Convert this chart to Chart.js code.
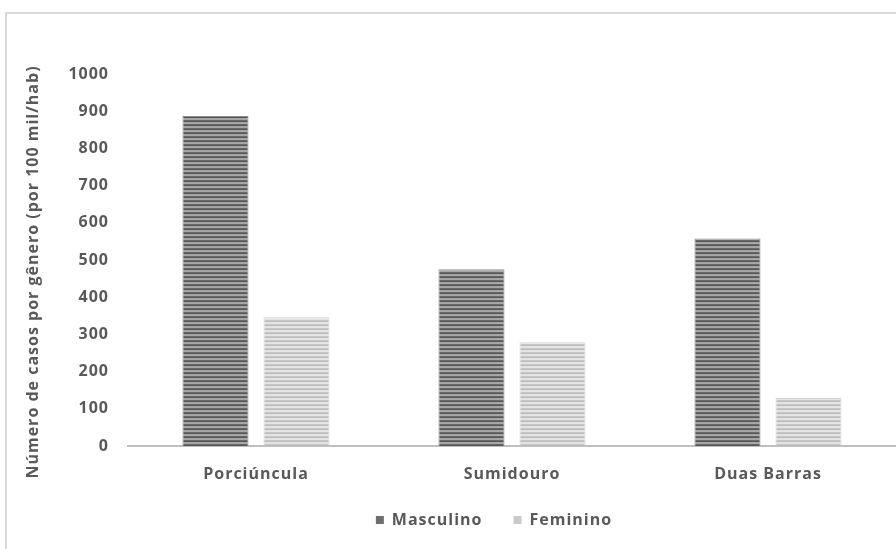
<!DOCTYPE html>
<html>
<head>
<meta charset="utf-8">
<script src="https://cdn.jsdelivr.net/npm/chart.js@4.4.1/dist/chart.umd.min.js"></script>
<style>
  html, body { margin: 0; padding: 0; background: #fff; overflow: hidden; }
  #frame {
    position: absolute; left: 5px; top: 12px; width: 1000px; height: 600px;
    border-left: 2px solid #d9d9d9; border-top: 2px solid #d9d9d9;
  }
  #wrap { position: absolute; left: 0; top: 0; width: 896px; height: 549px; }
</style>
</head>
<body>
<div id="frame"></div>
<div id="wrap"><canvas id="c" width="896" height="549"></canvas></div>
<script>
// Municípios e taxas por gênero (casos por 100 mil habitantes)
const municipios = ['Porciúncula', 'Sumidouro', 'Duas Barras'];
const masculino = [887, 475, 558];
const feminino = [346, 279, 129];
const yTicks = [0, 100, 200, 300, 400, 500, 600, 700, 800, 900, 1000];

const FONT = "'Open Sans', 'Lato', sans-serif";
const TEXT = '#595959';

// horizontal striped fill for the bars
function stripes(dark, light, edge) {
  const p = document.createElement('canvas');
  p.width = 4; p.height = 4;
  const g = p.getContext('2d');
  g.fillStyle = light; g.fillRect(0, 0, 4, 4);
  g.fillStyle = dark; g.fillRect(0, 0, 4, 2);
  g.fillStyle = edge; g.fillRect(0, 1, 4, 1);
  return g.createPattern(p, 'repeat');
}
const ctx = document.getElementById('c').getContext('2d');
const padM = stripes('#6a6a6a', '#a6a6a6', '#555555');
const padF = stripes('#c6c6c6', '#e4e4e4', '#bdbdbd');

// slightly spaced lettering for all chart text
const spacing = {
  id: 'spacing',
  beforeUpdate(c) { c.ctx.letterSpacing = '1px'; },
  beforeLayout(c) { c.ctx.letterSpacing = '1px'; },
  beforeDraw(c) { c.ctx.letterSpacing = '1px'; }
};
// legend sits right of the canvas centre and a little higher; axis title sits a bit low
const nudges = {
  id: 'nudges',
  afterLayout(c) {
    c.legend.left += 46; c.legend.right += 46;
    c.legend.top -= 5; c.legend.bottom -= 5;
    const s = c.scales.y;
    if (!s._nudged) {
      const orig = s.drawTitle.bind(s);
      s.drawTitle = function () {
        const g = this.ctx; g.save(); g.translate(0, 12); orig(); g.restore();
      };
      s._nudged = true;
    }
  }
};

new Chart(ctx, {
  type: 'bar',
  plugins: [spacing, nudges],
  data: {
    labels: municipios,
    datasets: [
      { label: 'Masculino', data: masculino, backgroundColor: padM,
        borderColor: '#8a8a8a', borderWidth: 1,
        categoryPercentage: 0.633, barPercentage: 0.815 },
      { label: 'Feminino', data: feminino, backgroundColor: padF,
        borderColor: '#d4d4d4', borderWidth: 1,
        categoryPercentage: 0.633, barPercentage: 0.815 }
    ]
  },
  options: {
    responsive: false,
    animation: false,
    layout: { padding: { top: 74, right: 0, left: 0, bottom: 6 } },
    plugins: {
      tooltip: { enabled: false },
      legend: {
        position: 'bottom',
        labels: {
          boxWidth: 8, boxHeight: 8, padding: 31,
          color: TEXT, font: { family: FONT, size: 16, weight: 'bold' },
          generateLabels(chart) {
            return chart.data.datasets.map((d, i) => ({
              text: d.label,
              fillStyle: i === 0 ? '#6e6e6e' : '#c8c8c8',
              strokeStyle: i === 0 ? '#6e6e6e' : '#c8c8c8',
              lineWidth: 0, datasetIndex: i, hidden: false,
              fontColor: TEXT
            }));
          }
        }
      }
    },
    scales: {
      x: {
        afterFit(s) { s.height = 40; },
        grid: { display: false, drawTicks: false },
        border: { display: true, color: '#bfbfbf', width: 2 },
        ticks: { color: TEXT, font: { family: FONT, size: 16, weight: 'bold' }, padding: 19 }
      },
      y: {
        min: 0, max: 1000,
        afterFit(s) { s.width = 128; },
        afterBuildTicks(scale) { scale.ticks = yTicks.map(v => ({ value: v })); },
        grid: { display: false, drawTicks: false },
        border: { display: false },
        ticks: {
          color: TEXT, font: { family: FONT, size: 16, weight: 'bold' }, padding: 19,
          callback: v => String(v)
        },
        title: {
          display: true,
          text: 'Número de casos por gênero (por 100 mil/hab)',
          color: TEXT, font: { family: FONT, size: 16, weight: 'bold' },
          padding: { top: 24, bottom: 0 }
        }
      }
    }
  }
});
</script>
</body>
</html>
